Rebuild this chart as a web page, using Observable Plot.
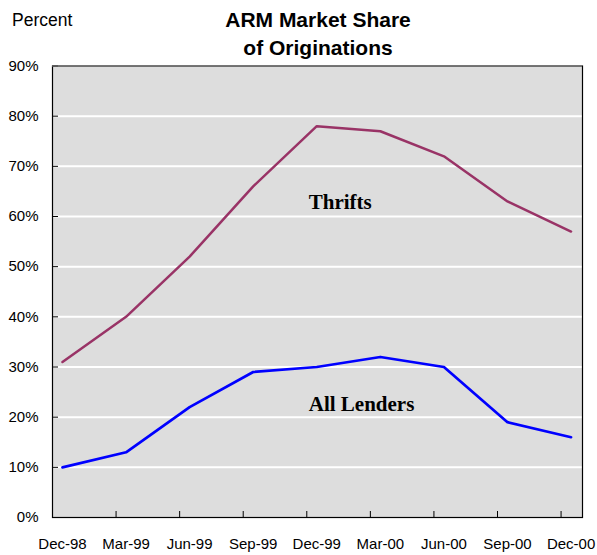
<!DOCTYPE html>
<html><head><meta charset="utf-8">
<script src="https://cdn.jsdelivr.net/npm/d3@7"></script>
<script src="https://cdn.jsdelivr.net/npm/@observablehq/plot@0.6"></script>
<style>
body{margin:0;background:#fff;}
#wrap{position:relative;width:597px;height:555px;font-family:"Liberation Sans",Arial,sans-serif;color:#000;}
#chart{position:absolute;left:0;top:0;}
#title{position:absolute;left:0;width:636px;top:6px;text-align:center;font-weight:bold;font-size:21px;line-height:28px;}
#unit{position:absolute;left:12px;top:11px;font-size:17.5px;line-height:19px;}
</style></head><body>
<div id="wrap"><div id="chart"></div><div id="unit">Percent</div><div id="title">ARM Market Share<br>of Originations</div></div>
<script>
const categories = ["Dec-98","Mar-99","Jun-99","Sep-99","Dec-99","Mar-00","Jun-00","Sep-00","Dec-00"];
const thrifts = [31, 40, 52, 66, 78, 77, 72, 63, 57];
const allLenders = [10, 13, 22, 29, 30, 32, 30, 19, 16];
const yTicks = [0, 10, 20, 30, 40, 50, 60, 70, 80, 90];
const seriesLabels = [
  {name: "Thrifts", at: "Dec-99", value: 61.5},
  {name: "All Lenders", at: "Dec-99", value: 21.3}
];

const edge = -0.157;
const xMax = categories.length - 1 + 0.18;
const idx = c => categories.indexOf(c);
const thriftRows = categories.map((c, i) => ({i, v: thrifts[i]}));
const lenderRows = categories.map((c, i) => ({i, v: allLenders[i]}));
const xTickMarks = categories.slice(1).map((c, k) => edge + k + 1);
const yGrid = yTicks.slice(1, -1);
const sans = "'Liberation Sans', Arial, sans-serif";

const chart = Plot.plot({
  width: 597, height: 555,
  marginTop: 65.5, marginBottom: 38, marginLeft: 52, marginRight: 15,
  style: {background: "transparent", color: "black", overflow: "visible", fontFamily: sans},
  x: {type: "linear", domain: [edge, xMax], label: null},
  y: {domain: [0, 90], label: null},
  marks: [
    Plot.frame({fill: "#dddddd", stroke: null}),
    Plot.ruleY(yGrid, {stroke: "white", strokeWidth: 2}),
    Plot.line(thriftRows, {x: "i", y: "v", stroke: "#993366", strokeWidth: 2.5}),
    Plot.line(lenderRows, {x: "i", y: "v", stroke: "#0000ff", strokeWidth: 2.7}),
    Plot.text(seriesLabels, {x: d => idx(d.at), y: "value", text: "name", textAnchor: "start", lineAnchor: "bottom", dx: -8,
      fontFamily: "'Liberation Serif', 'Times New Roman', serif", fontWeight: "bold", fontSize: 21, fill: "black"}),
    Plot.axisY({ticks: yTicks, tickSize: 0, tickPadding: 14, tickFormat: d => d + "%", fontSize: 15, fontFamily: sans}),
    Plot.axisY({ticks: yTicks, tickSize: 6, dx: 6, tickFormat: () => "", stroke: "black"}),
    Plot.axisX({ticks: categories.map((c, i) => i), tickSize: 0, tickPadding: 21, tickFormat: i => categories[i], fontSize: 15, fontFamily: sans}),
    Plot.axisX({ticks: xTickMarks, tickSize: 6, dy: -6, tickFormat: () => "", stroke: "black"}),
    Plot.frame({stroke: "black", strokeWidth: 1.2}),
    Plot.ruleY([90], {stroke: "#888", strokeWidth: 1.2})
  ]
});
document.getElementById("chart").appendChild(chart);
</script>
</body></html>
